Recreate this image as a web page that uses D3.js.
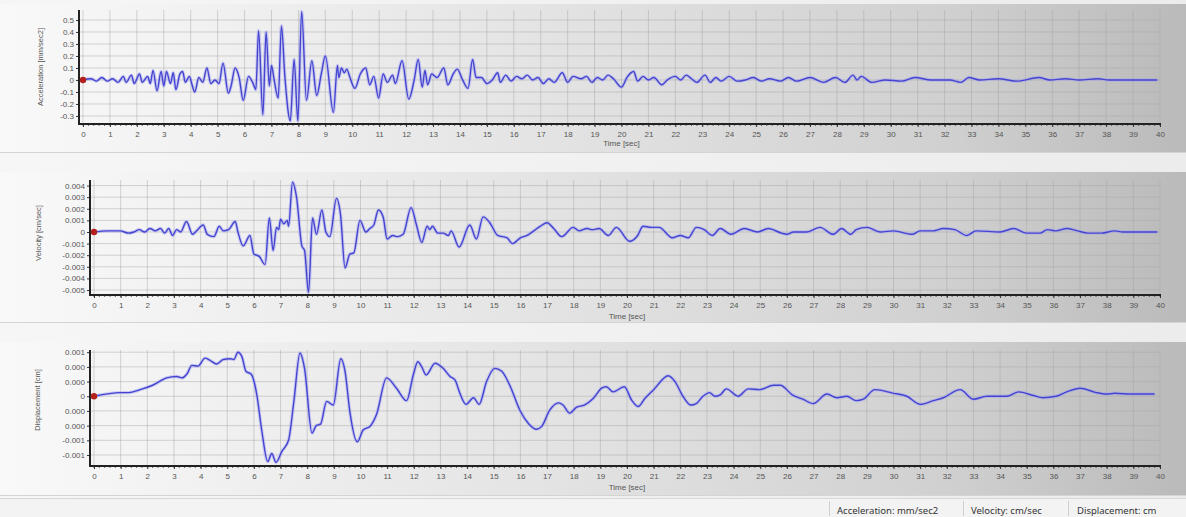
<!DOCTYPE html>
<html><head><meta charset="utf-8">
<script src="https://cdn.jsdelivr.net/npm/d3@7"></script>
<style>html,body{margin:0;padding:0;background:#fff;overflow:hidden}</style>
</head><body><svg id="c" width="1186" height="517"></svg>
<script>
// ---------------- DATA ----------------
const timeTicks = d3.range(0, 41);
const timeTickLabels = timeTicks.map(String);

const accTicks = [0.5, 0.4, 0.3, 0.2, 0.1, 0, -0.1, -0.2, -0.3];
const accTickLabels = ["0.5","0.4","0.3","0.2","0.1","0","-0.1","-0.2","-0.3"];
const velTicks = [0.004, 0.003, 0.002, 0.001, 0, -0.001, -0.002, -0.003, -0.004, -0.005];
const velTickLabels = ["0.004","0.003","0.002","0.001","0","-0.001","-0.002","-0.003","-0.004","-0.005"];
const dispTicks = [0.0006, 0.0004, 0.0002, 0, -0.0002, -0.0004, -0.0006, -0.0008];
const dispTickLabels = ["0.001","0.000","0.000","0","0.000","0.000","-0.001","-0.001"];

const accTime = [
 0,0.3,0.5,0.7,0.9,1.1,1.3,1.5,1.6,1.8,
 1.9,2.1,2.2,2.4,2.5,2.6,2.75,2.9,3.0,3.1,
 3.25,3.35,3.45,3.6,3.7,3.8,3.95,4.05,4.15,4.3,
 4.45,4.6,4.75,4.9,5.05,5.2,5.4,5.5,5.65,5.8,
 5.95,6.15,6.3,6.42,6.52,6.68,6.8,6.92,7.0,7.1,
 7.25,7.37,7.5,7.7,7.84,7.98,8.12,8.3,8.5,8.68,
 8.85,9.0,9.3,9.45,9.5,9.6,9.7,9.8,9.9,10.1,
 10.3,10.5,10.65,10.8,10.98,11.15,11.3,11.5,11.6,11.85,
 12.1,12.3,12.45,12.6,12.7,12.8,12.95,13.15,13.4,13.55,
 13.75,13.9,14.1,14.3,14.47,14.6,14.8,15.0,15.2,15.4,
 15.5,15.7,15.9,16.1,16.3,16.5,16.7,16.9,17.1,17.3,
 17.5,17.8,18.0,18.2,18.5,18.7,18.9,19.1,19.3,19.5,
 19.7,20.0,20.2,20.45,20.6,20.8,21.0,21.2,21.5,21.7,
 22.0,22.2,22.4,22.6,22.8,23.1,23.3,23.5,23.7,24.0,
 24.3,24.6,24.9,25.2,25.5,25.9,26.2,26.5,27.0,27.5,
 27.95,28.3,28.6,28.75,28.9,29.3,29.8,30.4,30.9,31.5,
 32.2,32.6,32.9,33.3,34.0,34.7,35.5,35.9,36.5,37.0,
 37.7,38.1,39.9];
const accValue = [
 0,0.01,-0.01,0.02,-0.01,0.01,-0.02,0.03,-0.02,0.04,
 -0.03,0.05,-0.02,0.03,-0.03,0.08,-0.09,0.07,-0.05,0.07,
 -0.03,0.06,-0.08,0.05,0.07,-0.02,0.03,-0.04,-0.1,0.02,
 -0.02,0.1,-0.03,0.0,-0.03,0.14,-0.11,-0.05,0.1,0.02,
 -0.17,0.03,-0.02,-0.08,0.41,-0.29,0.4,-0.05,0.12,0.0,
 -0.15,0.45,0.02,-0.34,0.17,-0.34,0.57,-0.17,0.16,-0.13,
 0.05,0.2,-0.27,0.12,0.02,0.1,0.06,0.09,0.03,-0.07,
 0.05,0.1,-0.04,0.03,-0.15,0.05,-0.02,0.04,-0.03,0.16,
 -0.16,0.0,0.17,-0.06,0.08,-0.04,0.05,0.02,0.1,-0.04,
 0.05,0.09,0.0,-0.07,0.17,0.02,0.02,-0.03,0.0,0.06,
 -0.02,0.04,-0.01,0.03,0.01,0.04,0.0,0.02,-0.03,0.01,
 -0.02,0.06,-0.02,0.03,0.01,0.03,-0.02,0.02,0.0,0.04,
 0.01,-0.06,0.02,0.07,-0.01,0.03,0.0,0.02,-0.04,0.0,
 0.03,0.0,0.04,0.01,-0.02,0.04,-0.02,0.02,-0.01,0.03,
 -0.01,0.0,0.02,-0.01,0.01,-0.01,0.02,-0.01,0.02,-0.02,
 0.02,-0.02,0.04,0.0,0.03,-0.02,0.0,-0.01,0.02,0.0,
 0.0,-0.02,0.02,0.0,0.01,-0.01,0.02,0.0,0.01,0.0,
 0.01,0.0,0.0];

const velTime = [
 0,0.5,0.98,1.3,1.5,1.7,1.9,2.1,2.3,2.5,
 2.65,2.8,2.95,3.1,3.25,3.47,3.7,3.85,4.1,4.25,
 4.5,4.7,4.85,5.05,5.3,5.4,5.6,5.85,6.0,6.2,
 6.42,6.58,6.72,6.85,6.93,7.0,7.12,7.25,7.3,7.45,
 7.6,7.8,7.9,8.05,8.2,8.35,8.55,8.7,8.85,9.1,
 9.25,9.42,9.6,9.75,9.98,10.2,10.35,10.5,10.67,10.85,
 11.0,11.2,11.4,11.6,11.9,12.1,12.3,12.5,12.6,12.7,
 12.9,13.1,13.3,13.4,13.7,14.1,14.35,14.6,14.85,15.15,
 15.5,15.7,16.0,16.25,16.5,16.75,17.0,17.25,17.55,17.98,
 18.2,18.5,18.7,18.95,19.3,19.6,20.1,20.4,20.6,20.9,
 21.2,21.7,22.0,22.3,22.6,22.9,23.2,23.5,23.9,24.4,
 24.9,25.3,25.8,26.0,26.25,26.75,27.24,27.74,28.05,28.4,
 28.6,29.0,29.5,30.0,30.7,31.0,31.5,31.87,32.3,32.75,
 33.1,34.0,34.5,35.0,35.5,35.77,36.1,36.5,36.9,37.3,
 37.8,38.3,38.6,39.9];
const velValue = [
 0,0.0001,0.0001,-0.0001,0.0,0.0002,0.0,0.0003,0.0001,0.0003,
 -0.0001,0.0003,-0.0003,0.0002,0.0,0.0009,-0.0002,0.0001,0.0006,-0.0002,
 -0.0004,0.0005,0.0001,0.0002,0.0009,0.0,-0.0012,-0.0003,-0.0019,-0.0021,
 -0.0028,0.0012,-0.0016,0.0004,0.0002,0.0011,0.0007,0.001,0.0005,0.0043,
 0.003,-0.0012,-0.0016,-0.0052,0.0012,-0.0002,0.0019,0.0,-0.0004,0.0029,
 0.0015,-0.0031,-0.0019,-0.0018,0.001,0.0,0.0003,0.0006,0.0019,0.0013,
 -0.0006,-0.0003,-0.0004,-0.0002,0.0021,0.0006,-0.0009,0.0005,0.0002,0.0005,
 -0.0001,-0.0001,-0.0003,0.0001,-0.0013,0.0006,-0.0006,0.0013,0.0008,-0.0003,
 -0.0005,-0.001,-0.0005,-0.0003,0.0001,0.0005,0.0008,0.0003,-0.0004,0.0004,
 0.0001,0.0003,0.0002,0.0003,-0.0003,0.0004,-0.0008,-0.0003,0.0005,0.0004,
 0.0004,-0.0005,-0.0003,-0.0005,0.0004,0.0002,-0.0003,0.0003,-0.0002,0.0003,
 0.0,0.0003,-0.0001,-0.0002,0.0,0.0,0.0004,-0.0002,0.0003,-0.0002,
 0.0002,0.0004,0.0,0.0001,-0.0002,0.0001,0.0001,0.0003,0.0002,-0.0003,
 0.0001,0.0,0.0003,-0.0001,-0.0001,0.0002,0.0001,0.0003,0.0001,-0.0001,
 -0.0001,0.0001,0.0,0.0];

const dispTime = [
 0,0.98,1.3,1.73,2.2,2.73,3.1,3.3,3.5,3.67,
 3.9,4.17,4.35,4.6,4.85,5.1,5.25,5.4,5.55,5.7,
 5.9,6.1,6.3,6.52,6.67,6.83,7.05,7.3,7.5,7.73,
 7.9,8.18,8.34,8.5,8.73,8.98,9.26,9.42,9.6,9.88,
 10.1,10.36,10.6,10.98,11.35,11.73,11.98,12.15,12.3,12.46,
 12.8,13.1,13.36,13.55,13.73,13.96,14.24,14.45,14.73,15.04,
 15.3,15.6,15.98,16.3,16.6,16.8,17.1,17.43,17.6,17.85,
 18.1,18.4,18.73,19.05,19.22,19.48,19.9,20.17,20.42,20.67,
 21.0,21.55,21.8,22.1,22.4,22.6,22.85,23.1,23.3,23.5,
 23.73,24.17,24.55,24.98,25.5,25.75,26.2,26.6,26.99,27.5,
 27.87,28.25,28.6,28.87,29.3,30.0,30.5,31.0,31.5,31.87,
 32.5,33.0,33.5,34.25,34.7,35.25,35.6,36.1,36.5,37.0,
 37.6,38.0,38.3,38.95,39.8];
const dispValue = [
 0,0.00005,0.00005,0.00009,0.00015,0.00025,0.00027,0.00025,0.00031,0.00042,
 0.00041,0.00052,0.00049,0.00044,0.0005,0.00051,0.0005,0.0006,0.00054,0.00034,
 0.0003,0.00004,-0.00048,-0.00089,-0.00078,-0.0009,-0.00075,-0.0006,-0.00007,0.00059,
 0.00038,-0.0005,-0.0004,-0.00038,-0.00007,-0.00012,0.00051,0.00034,-0.00021,-0.00062,
 -0.00046,-0.00041,-0.00025,0.00025,0.00011,-0.00006,0.00029,0.00047,0.0004,0.00029,
 0.00045,0.00038,0.00027,0.00022,0.00004,-0.00011,-0.00002,-0.00011,0.0002,0.00038,
 0.00034,0.00015,-0.00019,-0.00037,-0.00045,-0.00041,-0.00019,-0.00009,-0.00012,-0.00023,
 -0.00015,-0.00012,-0.00003,0.00011,0.00013,0.00006,0.00013,-0.00005,-0.00014,-0.00003,
 0.00009,0.00028,0.0002,0.0,-0.00012,-0.0001,0.0,0.00005,0.0,0.00002,
 0.0001,0.0,0.0001,0.00009,0.00015,0.00015,0.00002,-0.00004,-0.0001,0.00003,
 -0.00002,0.0,-0.00006,-0.00004,0.00009,0.00004,0.0,-0.00011,-0.00006,-0.00002,
 0.00009,-0.00004,0.0,0.0,0.00006,0.00001,-0.00002,0.0,0.00006,0.00011,
 0.00005,0.00003,0.00004,0.00003,0.00003];

const unitLabels = ["Acceleration: mm/sec2", "Velocity: cm/sec", "Displacement: cm"];

// ---------------- DRAW ----------------
const W = 1186, H = 517;
const svg = d3.select('#c');
const defs = svg.append('defs');
function grad(id, stops) {
  const g = defs.append('linearGradient').attr('id', id).attr('x1', 0).attr('x2', 1).attr('y1', 0).attr('y2', 0);
  stops.forEach(s => g.append('stop').attr('offset', s[0]).attr('stop-color', s[1]));
}
grad('pbg', [[0, '#f9f9f9'], [0.45, '#e4e4e4'], [0.8, '#d0d0d0'], [1, '#bababa']]);
grad('band', [[0, '#f6f6f6'], [1, '#ececec']]);

svg.append('rect').attr('width', W).attr('height', H).attr('fill', 'url(#band)');

const FONT = "'Liberation Sans', Arial, sans-serif";

const panels = [
  {t: accTime, v: accValue, ticks: accTicks, labels: accTickLabels, title: 'Acceleration [mm/sec2]',
   bgY: 4, bgH: 148, x0: 83, x1: 1160, yTop: 10, yBot: 124, dom: [-0.367, 0.583], titleX: 40, titleY: 67, timeY: 146},
  {t: velTime, v: velValue, ticks: velTicks, labels: velTickLabels, title: 'Velocity [cm/sec]',
   bgY: 172, bgH: 150, x0: 94, x1: 1160, yTop: 180, yBot: 295, dom: [-0.00543, 0.00448], titleX: 38, titleY: 233, timeY: 319},
  {t: dispTime, v: dispValue, ticks: dispTicks, labels: dispTickLabels, title: 'Displacement [cm]',
   bgY: 342, bgH: 153, x0: 94, x1: 1160, yTop: 350, yBot: 466, dom: [-0.00095, 0.00063], titleX: 37, titleY: 400, timeY: 490}
];

panels.forEach(p => {
  const g = svg.append('g');
  g.append('rect').attr('x', 0).attr('y', p.bgY).attr('width', W).attr('height', p.bgH).attr('fill', 'url(#pbg)');
  g.append('line').attr('x1', 0).attr('x2', W).attr('y1', p.bgY + p.bgH + 0.5).attr('y2', p.bgY + p.bgH + 0.5)
    .attr('stroke', '#d4d4d4');

  const x = d3.scaleLinear().domain([0, 40]).range([p.x0, p.x1]);
  const y = d3.scaleLinear().domain(p.dom).range([p.yBot, p.yTop]);
  const axX = p.x0 - 4;

  // grid
  g.append('g').selectAll('line').data(timeTicks).join('line')
    .attr('x1', d => x(d)).attr('x2', d => x(d)).attr('y1', p.yTop).attr('y2', p.yBot)
    .attr('stroke', '#a4a4a4').attr('stroke-opacity', 0.45).attr('stroke-width', 1);
  g.append('g').selectAll('line').data(p.ticks).join('line')
    .attr('x1', axX).attr('x2', p.x1).attr('y1', d => y(d)).attr('y2', d => y(d))
    .attr('stroke', '#a4a4a4').attr('stroke-opacity', 0.45).attr('stroke-width', 1);

  // left axis
  const la = g.append('g').attr('transform', `translate(${axX},0)`)
    .call(d3.axisLeft(y).tickValues(p.ticks).tickFormat((d, i) => p.labels[i]).tickSize(3).tickPadding(2));
  la.select('.domain').remove();
  la.selectAll('line').attr('stroke', '#333');
  la.selectAll('text').attr('font-family', FONT).attr('font-size', 8).attr('fill', '#555');
  g.append('line').attr('x1', axX).attr('x2', axX).attr('y1', p.yTop).attr('y2', p.yBot + 1)
    .attr('stroke', '#222').attr('stroke-width', 2);

  // bottom axis
  const ba = g.append('g').attr('transform', `translate(0,${p.yBot})`)
    .call(d3.axisBottom(x).tickValues(timeTicks).tickFormat((d, i) => timeTickLabels[i]).tickSize(3).tickPadding(4));
  ba.select('.domain').remove();
  ba.selectAll('line').attr('stroke', '#333');
  ba.selectAll('text').attr('font-family', FONT).attr('font-size', 8).attr('fill', '#555');
  g.append('g').selectAll('line').data(d3.range(0, 40.01, 0.2)).join('line')
    .attr('x1', d => x(d)).attr('x2', d => x(d)).attr('y1', p.yBot).attr('y2', p.yBot + 2)
    .attr('stroke', '#444').attr('stroke-width', 0.8);
  g.append('line').attr('x1', axX - 1).attr('x2', p.x1 + 1).attr('y1', p.yBot).attr('y2', p.yBot)
    .attr('stroke', '#222').attr('stroke-width', 2);

  g.append('text').attr('x', (p.x0 + p.x1) / 2).attr('y', p.timeY).attr('text-anchor', 'middle')
    .attr('font-family', FONT).attr('font-size', 8).attr('fill', '#555').text('Time [sec]');
  g.append('text').attr('transform', `translate(${p.titleX},${p.titleY}) rotate(-90)`)
    .attr('text-anchor', 'middle').attr('dy', '0.35em')
    .attr('font-family', FONT).attr('font-size', 7.5).attr('fill', '#555').text(p.title);

  // series
  const pts = p.t.map((t, i) => [t, p.v[i]]);
  const line = d3.line().x(d => x(d[0])).y(d => y(d[1])).curve(d3.curveMonotoneX);
  g.append('path').attr('d', line(pts)).attr('fill', 'none').attr('stroke', '#a2a2f2')
    .attr('stroke-width', 3.4).attr('stroke-opacity', 0.5).attr('stroke-linejoin', 'round');
  g.append('path').attr('d', line(pts)).attr('fill', 'none').attr('stroke', '#4444d0')
    .attr('stroke-width', 1.4).attr('stroke-linejoin', 'round');
  g.append('circle').attr('cx', x(0)).attr('cy', y(0)).attr('r', 3.2).attr('fill', '#b3201c');
});

// status bar
const sb = svg.append('g');
sb.append('rect').attr('x', 0).attr('y', 499).attr('width', W).attr('height', 18).attr('fill', '#f3f3f3');
sb.append('line').attr('x1', 0).attr('x2', W).attr('y1', 498.5).attr('y2', 498.5).attr('stroke', '#d8d8d8');
const sbX = [837, 971, 1077];
const sepX = [829, 963, 1068];
sb.selectAll('line.sep').data(sepX).join('line').attr('class', 'sep')
  .attr('x1', d => d + 0.5).attr('x2', d => d + 0.5).attr('y1', 501).attr('y2', 516).attr('stroke', '#cfcfcf');
sb.selectAll('text').data(unitLabels).join('text')
  .attr('x', (d, i) => sbX[i]).attr('y', 514)
  .attr('font-family', "'Noto Sans', 'Open Sans', sans-serif").attr('font-size', 9.5).attr('fill', '#333')
  .text(d => d);
</script>
</body></html>
